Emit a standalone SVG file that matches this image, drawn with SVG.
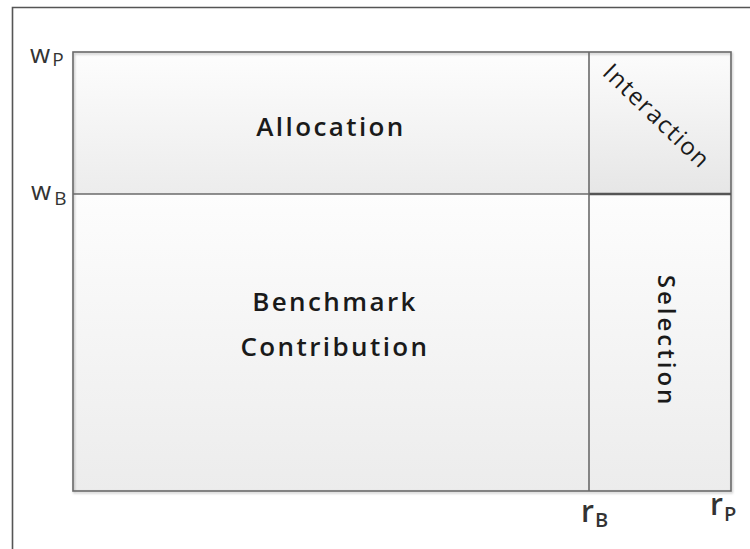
<svg xmlns="http://www.w3.org/2000/svg" width="750" height="549" viewBox="0 0 750 549">
<style>
.ln{stroke:#6a6a6a;stroke-width:1.6;fill:none}
.lbl{font-family:"Open Sans","DejaVu Sans",sans-serif;fill:#1a1a1a}
.big{font-size:26px;font-weight:600;text-anchor:middle;letter-spacing:2.4px}
.ax{font-family:"Open Sans","DejaVu Sans",sans-serif;fill:#333}
</style>
<defs>
<linearGradient id="g" x1="0" y1="0" x2="0" y2="1">
<stop offset="0" stop-color="#fdfdfd"/>
<stop offset="1" stop-color="#ececec"/>
</linearGradient>
<linearGradient id="gi" x1="0" y1="0" x2="0" y2="1">
<stop offset="0" stop-color="#fcfcfc"/>
<stop offset="1" stop-color="#e6e6e6"/>
</linearGradient>
<filter id="sh" x="-5%" y="-5%" width="110%" height="110%">
<feDropShadow dx="1" dy="1.5" stdDeviation="1" flood-color="#000" flood-opacity="0.25"/>
</filter>
</defs>
<rect width="750" height="549" fill="#fff"/>
<g id="frame">
<path d="M12.5 549 V7.5 H750" stroke="#555" stroke-width="1.6" fill="none"/>
</g>
<g id="allocation">
<rect x="73" y="52" width="516" height="142" fill="url(#g)"/>
<text class="lbl big" x="331" y="136">Allocation</text>
</g>
<g id="interaction">
<rect x="589" y="52" width="142" height="142" fill="url(#gi)"/>
<text class="lbl" font-size="24" letter-spacing="1.5" text-anchor="middle" transform="translate(651,122) rotate(44)">Interaction</text>
</g>
<g id="benchmark">
<rect x="73" y="194" width="516" height="297" fill="url(#g)"/>
<text class="lbl big" x="335" y="311">Benchmark</text>
<text class="lbl big" x="335" y="356">Contribution</text>
</g>
<g id="selection">
<rect x="589" y="194" width="142" height="297" fill="url(#g)"/>
<text class="lbl" font-size="24" font-weight="600" letter-spacing="3" text-anchor="middle" transform="translate(658,341) rotate(90)">Selection</text>
</g>
<g id="connectors">
<rect x="73" y="52" width="658" height="439" class="ln" filter="url(#sh)"/>
<line x1="73" y1="194" x2="731" y2="194" class="ln"/>
<line x1="589" y1="194" x2="731" y2="194" stroke="#555" stroke-width="2.4"/>
<line x1="589" y1="52" x2="589" y2="491" class="ln"/>
</g>
<g id="axis-labels">
<text class="ax" x="30" y="63" font-size="26">w<tspan font-size="19" dx="2" dy="3">P</tspan></text>
<text class="ax" x="31" y="200" font-size="26">w<tspan font-size="19" dx="3" dy="5">B</tspan></text>
<text class="ax" x="581" y="522" font-size="30" font-weight="600">r<tspan font-size="20" dx="1" dy="5">B</tspan></text>
<text class="ax" x="710" y="515" font-size="30" font-weight="600">r<tspan font-size="20" dx="1" dy="6">P</tspan></text>
</g>
</svg>
